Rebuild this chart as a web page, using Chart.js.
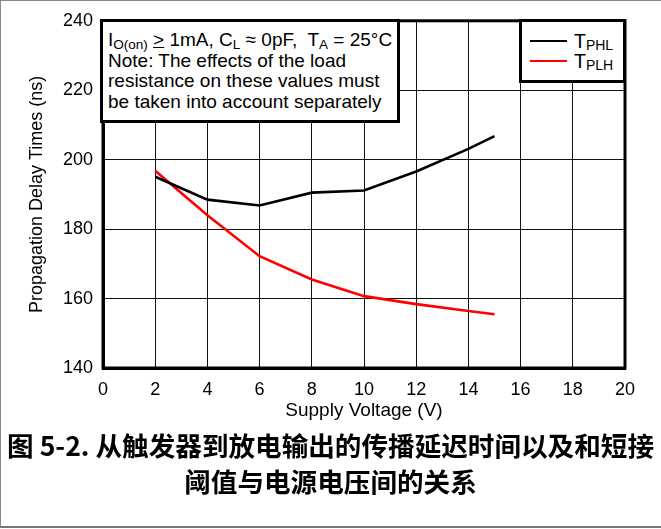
<!DOCTYPE html>
<html><head><meta charset="utf-8">
<script src="https://cdn.jsdelivr.net/npm/chart.js@4"></script>
<style>
html,body{margin:0;padding:0;background:#fff;}
#wrap{position:relative;width:661px;height:529px;overflow:hidden;background:#fff;}
#frame{position:absolute;left:0;top:0;width:661px;height:528px;border-top:1px solid #888;border-left:1px solid #888;border-bottom:2px solid #777;box-sizing:border-box;pointer-events:none;}
canvas{position:absolute;left:0;top:0;}
#note{position:absolute;left:100px;top:19px;width:300px;height:104px;border:3px solid #000;background:#fff;box-sizing:border-box;
 font:19px "Liberation Sans",Arial,sans-serif;color:#000;line-height:20.5px;padding:8px 0 0 5px;white-space:nowrap;}
#note sub{font-size:13.5px;vertical-align:-3px;line-height:0;}
#legend{position:absolute;left:519px;top:19px;width:107px;height:64px;border:3px solid #000;background:#fff;box-sizing:border-box;
 font:19.5px "Liberation Sans",Arial,sans-serif;color:#000;}
#legend .row{position:absolute;left:0;height:20px;width:100px;}
#legend .ln{position:absolute;left:8px;top:9px;width:37px;height:0;border-top:2.6px solid #000;}
#legend .tx{position:absolute;left:52px;top:0;line-height:20px;white-space:nowrap;}
#legend .tx sub{font-size:14px;vertical-align:-2px;line-height:0;}
.cap{position:absolute;left:0;width:661px;text-align:center;font:bold 26.6px "Noto Sans CJK SC",sans-serif;color:#000;line-height:36px;white-space:nowrap;}
</style>
</head><body>
<div id="wrap">
<canvas id="c" width="661" height="529"></canvas>
<div id="note">
<div>I<sub>O(on)</sub> <u>&gt;</u> 1mA, C<sub>L</sub> ≈ 0pF,&nbsp; T<sub>A</sub> = 25°C</div>
<div>Note: The effects of the load</div>
<div>resistance on these values must</div>
<div>be taken into account separately</div>
</div>
<div id="legend"></div>
<div class="cap" style="top:427px;">图 5-2. 从触发器到放电输出的传播延迟时间以及和短接</div>
<div class="cap" style="top:463px;">阈值与电源电压间的关系</div>
<div id="frame"></div>
</div>
<script>
// ---- data ----
const voltages = [2, 4, 6, 8, 10, 12, 14, 15];
const tphl = [195.1, 188.5, 186.8, 190.5, 191.1, 196.6, 203.1, 206.8];
const tplh = [196.8, 184.0, 172.2, 165.5, 160.7, 158.4, 156.4, 155.5];
const seriesNames = ['TPHL', 'TPLH'];
const seriesColors = ['#000000', '#ff0000'];
const xTickValues = [0, 2, 4, 6, 8, 10, 12, 14, 16, 18, 20];
const yTickValues = [140, 160, 180, 200, 220, 240];
const xTitle = 'Supply Voltage (V)';
const yTitle = 'Propagation Delay Times (ns)';

const toPoints = (xs, ys) => xs.map((x, i) => ({x: x, y: ys[i]}));

const framePlugin = {
  id: 'frame',
  afterDatasetsDraw(chart) {
    const a = chart.chartArea, ctx = chart.ctx;
    ctx.save();
    ctx.strokeStyle = '#000';
    ctx.lineWidth = 3;
    ctx.strokeRect(a.left, a.top, a.right - a.left, a.bottom - a.top);
    ctx.restore();
  }
};

const htmlLegend = {
  id: 'htmlLegend',
  afterUpdate(chart) {
    const box = document.getElementById('legend');
    box.innerHTML = '';
    chart.data.datasets.forEach((ds, i) => {
      const row = document.createElement('div');
      row.className = 'row';
      row.style.top = (9 + i * 20) + 'px';
      const ln = document.createElement('div');
      ln.className = 'ln';
      ln.style.borderTopColor = ds.borderColor;
      const tx = document.createElement('div');
      tx.className = 'tx';
      tx.textContent = ds.label.charAt(0);
      const sb = document.createElement('sub');
      sb.textContent = ds.label.slice(1);
      tx.appendChild(sb);
      row.appendChild(ln); row.appendChild(tx);
      box.appendChild(row);
    });
  }
};

const tickFont = {family: '"Liberation Sans", Arial, sans-serif', size: 18};

new Chart(document.getElementById('c'), {
  type: 'line',
  data: {
    datasets: [
      {label: seriesNames[0], data: toPoints(voltages, tphl), borderColor: seriesColors[0], backgroundColor: seriesColors[0], borderWidth: 2.6, pointRadius: 0, tension: 0, fill: false},
      {label: seriesNames[1], data: toPoints(voltages, tplh), borderColor: seriesColors[1], backgroundColor: seriesColors[1], borderWidth: 2.6, pointRadius: 0, tension: 0, fill: false}
    ]
  },
  options: {
    responsive: false,
    animation: false,
    layout: {padding: {left: 0, right: 36, top: 20, bottom: 108}},
    plugins: {legend: {display: false}, tooltip: {enabled: false}},
    scales: {
      x: {
        type: 'linear', min: 0, max: 20,
        afterBuildTicks: s => { s.ticks = xTickValues.map(v => ({value: v})); },
        afterFit: s => { s.height = 53; },
        ticks: {font: tickFont, color: '#000', padding: 11, maxRotation: 0, autoSkip: false},
        grid: {color: '#111', lineWidth: 1, drawTicks: false},
        border: {display: true, color: '#000', width: 3},
        title: {display: true, text: xTitle, color: '#000', font: {family: '"Liberation Sans", Arial, sans-serif', size: 19}, padding: {top: 0, bottom: -1}}
      },
      y: {
        type: 'linear', min: 140, max: 240,
        afterBuildTicks: s => { s.ticks = yTickValues.map(v => ({value: v})); },
        afterFit: s => { s.width = 103; },
        ticks: {font: tickFont, color: '#000', padding: 10, autoSkip: false},
        grid: {color: '#111', lineWidth: 1, drawTicks: false},
        border: {display: true, color: '#000', width: 3},
        title: {display: true, text: yTitle, color: '#000', font: {family: '"Liberation Sans", Arial, sans-serif', size: 18}, padding: {top: 26, bottom: 0}}
      }
    }
  },
  plugins: [framePlugin, htmlLegend]
});
</script>
</body></html>
